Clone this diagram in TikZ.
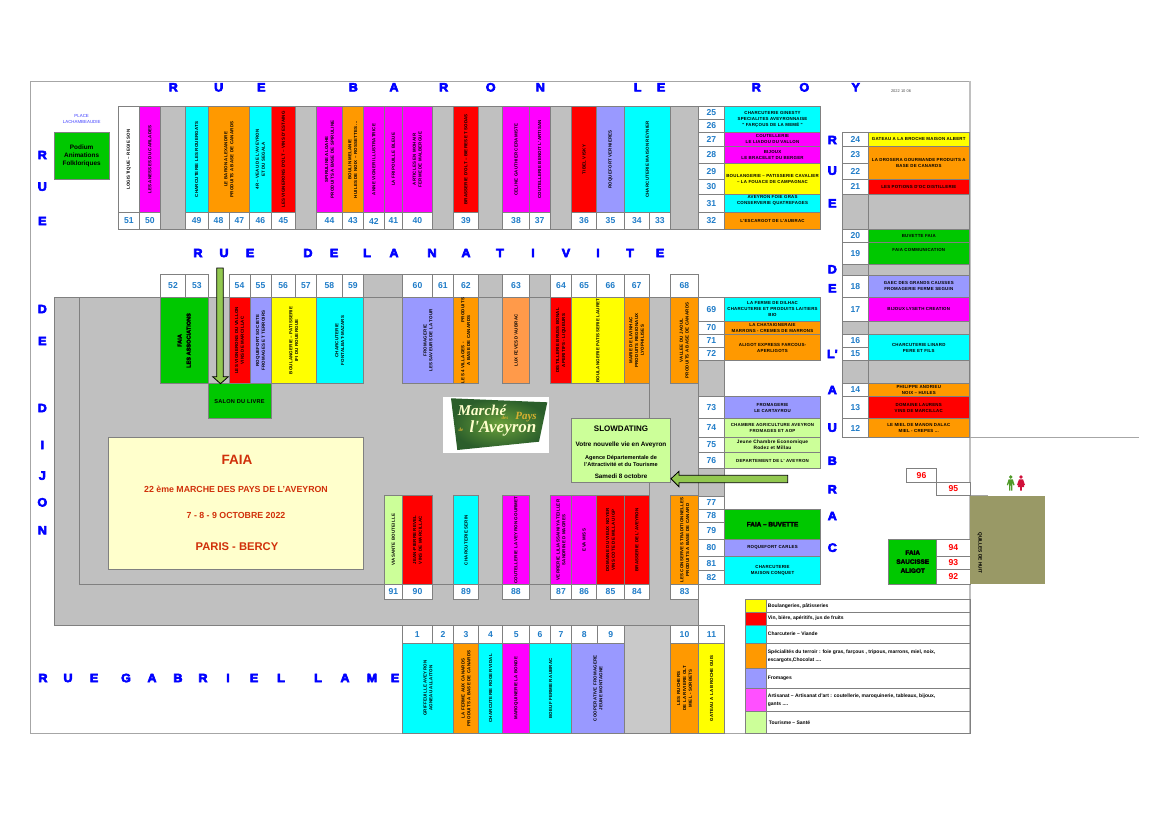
\documentclass[tikz,border=0pt]{standalone}
\usepackage{fontspec}
\setmainfont{Liberation Sans}
\newfontfamily\streetfont[UprightFont=* Bold,FakeBold=5,FakeStretch=1.05]{Liberation Sans}
\newfontfamily\heavyfont[UprightFont=* Bold,FakeBold=3.5]{Liberation Sans}
\newfontfamily\standfont[UprightFont=* Bold,LetterSpace=5]{Liberation Sans}
\newfontfamily\logofont[ItalicFont=* Bold Italic]{Liberation Serif}
\definecolor{cyan}{HTML}{00FFFF}
\definecolor{magenta}{HTML}{FF00FF}
\definecolor{yellow}{HTML}{FFFF00}
\definecolor{red}{HTML}{FF0000}
\definecolor{blue}{HTML}{0000FF}
\definecolor{standorange}{HTML}{FF9900}
\definecolor{lightorange}{HTML}{FF9A4A}
\definecolor{fromage}{HTML}{9999FF}
\definecolor{tourisme}{HTML}{CCFF99}
\definecolor{faiagreen}{HTML}{00C800}
\definecolor{allee}{HTML}{C0C0C0}
\definecolor{numblue}{HTML}{1F7CC8}
\definecolor{faiared}{HTML}{D0300A}
\definecolor{cream}{HTML}{FFFFCC}
\definecolor{olive}{HTML}{999966}
\definecolor{arrowgreen}{HTML}{92C850}
\definecolor{legendpink}{HTML}{FF50FF}
\definecolor{placeblue}{HTML}{4040FF}
\definecolor{mangreen}{HTML}{4F9A28}
\definecolor{ladyred}{HTML}{D0103A}
\definecolor{logolight}{HTML}{6AA03A}
\definecolor{logodark}{HTML}{2B5E2B}
\definecolor{logogold}{HTML}{D8B030}
\tikzset{
	standline/.style={draw=black!50, line width=0.6pt},
	emptystand/.style={standline, fill=allee},
	vlabel/.style={rotate=90, inner sep=0pt, align=center, font=\fontsize{4.4}{5.8}\selectfont\standfont},
	hlabel/.style={inner sep=0pt, align=center, font=\fontsize{4.4}{6}\selectfont\standfont},
	vheavy/.style={rotate=90, inner sep=0pt, align=center, font=\fontsize{5.6}{9}\selectfont\heavyfont},
	hheavy/.style={inner sep=0pt, align=center, font=\fontsize{6.4}{9}\selectfont\heavyfont},
	numlabel/.style={inner sep=0pt, text=numblue, font=\fontsize{8.6}{10}\selectfont\bfseries},
	rednum/.style={inner sep=0pt, text=red, font=\fontsize{8.6}{10}\selectfont\bfseries},
	street/.style={inner sep=0pt, text=blue, font=\fontsize{12}{12}\selectfont\streetfont},
	legendtext/.style={inner sep=0pt, anchor=west, align=left, font=\fontsize{5}{8}\selectfont\bfseries},
	faiatext/.style={inner sep=0pt, text=faiared, font=\bfseries},
	slowtext/.style={inner sep=0pt, align=center, font=\fontsize{5.6}{7}\selectfont\bfseries},
	blockarrow/.style={draw=black, line width=0.8pt, fill=arrowgreen},
}
\def\stand[#1][#2](#3)(#4)(#5)#6{\draw[standline, fill=#1] (#4) rectangle (#5) node[midway, #2] (#3) {#6};}
\def\numcell[#1](#2)(#3)(#4)#5{\draw[standline, fill=white] (#3) rectangle (#4) node[midway, #1] (#2) {#5};}
\def\letter(#1)(#2)#3{\node[street] (#1) at (#2) {#3};}
\def\legendrow[#1](#2)(#3:#4)#5{\draw[standline] (766.3, #3) rectangle (970, #4); \draw[standline, fill=#1] (745, #3) rectangle (766.3, #4); \node[legendtext] (#2) at (767.7, {(#3+#4)/2}) {#5};}

\begin{document}
\begin{tikzpicture}[x=1pt, y=-1pt]
			%%%%% START %%%%%
			\useasboundingbox (0, 0) rectangle (1169, 826);
			
			\draw[line width=0.7pt, color=black!35] (970, 81) -- (30, 81) -- (30, 733.3) -- (970, 733.3);
			\draw[line width=1.5pt, color=allee] (970, 81) -- (970, 733.3);
			\draw[line width=0.7pt, color=black!35] (970, 437.3) -- (1139, 437.3);
			\draw[line width=0.7pt, color=black!35] (970, 495.7) -- (988, 495.7);
			
			% allees
			\draw[standline, fill=allee] (54.3, 297.3) rectangle (698.5, 625);
			\draw[standline] (649.3, 297.3) -- (649.3, 584.3) -- (79.3, 584.3) -- (79.3, 297.3);
			\draw[standline, fill=allee!85!white] (624.3, 625) rectangle (670.3, 733.3);
			
			% rue baron le roy
			\letter(l1)(173.3, 87.3){R}
			\letter(l2)(218.7, 87.3){U}
			\letter(l3)(261.3, 87.3){E}
			\letter(l4)(353.3, 87.3){B}
			\letter(l5)(394, 87.3){A}
			\letter(l6)(443.7, 87.3){R}
			\letter(l7)(490.7, 87.3){O}
			\letter(l8)(540.3, 87.3){N}
			\letter(l9)(637.7, 87.3){L}
			\letter(l10)(661, 87.3){E}
			\letter(l11)(756.3, 87.3){R}
			\letter(l12)(804.3, 87.3){O}
			\letter(l13)(855.7, 87.3){Y}
			\node[inner sep=0pt, text=black!70, font=\fontsize{4}{5}\selectfont] (dateplan) at (901, 91.3) {2022 10 06};
			
			% rue de la nativite
			\letter(m1)(198, 253){R}
			\letter(m2)(224, 253){U}
			\letter(m3)(250, 253){E}
			\letter(m4)(308, 253){D}
			\letter(m5)(334, 253){E}
			\letter(m6)(367, 253){L}
			\letter(m7)(394, 253){A}
			\letter(m8)(432, 253){N}
			\letter(m9)(466, 253){A}
			\letter(m10)(500, 253){T}
			\letter(m11)(533, 253){I}
			\letter(m12)(566, 253){V}
			\letter(m13)(598, 253){I}
			\letter(m14)(630, 253){T}
			\letter(m15)(660, 253){E}
			
			% rue de dijon
			\letter(d1)(42.3, 155){R}
			\letter(d2)(42.3, 186.7){U}
			\letter(d3)(42.3, 221){E}
			\letter(d4)(42.3, 309){D}
			\letter(d5)(42.3, 341){E}
			\letter(d6)(42.3, 408){D}
			\letter(d7)(42.3, 445){I}
			\letter(d8)(42.3, 475.7){J}
			\letter(d9)(42.3, 502.3){O}
			\letter(d10)(42.3, 530.3){N}
			
			% rue de l'aubrac
			\letter(a1)(832.3, 140){R}
			\letter(a2)(832.3, 170.7){U}
			\letter(a3)(832.3, 203.3){E}
			\letter(a4)(832.3, 269.3){D}
			\letter(a5)(832.3, 288.3){E}
			\letter(a6)(832.3, 354){L'}
			\letter(a7)(832.3, 390){A}
			\letter(a8)(832.3, 427.7){U}
			\letter(a9)(832.3, 460.7){B}
			\letter(a10)(832.3, 489.3){R}
			\letter(a11)(832.3, 516){A}
			\letter(a12)(832.3, 547.7){C}
			
			% rue gabriel lame
			\letter(g1)(43, 678){R}
			\letter(g2)(68, 678){U}
			\letter(g3)(94, 678){E}
			\letter(g4)(126, 678){G}
			\letter(g5)(152, 678){A}
			\letter(g6)(178, 678){B}
			\letter(g7)(203, 678){R}
			\letter(g8)(228, 678){I}
			\letter(g9)(254, 678){E}
			\letter(g10)(281, 678){L}
			\letter(g11)(318, 678){L}
			\letter(g12)(345, 678){A}
			\letter(g13)(372, 678){M}
			\letter(g14)(395, 678){E}
			
			% place
			\node[inner sep=0pt, align=center, text=placeblue, font=\fontsize{4.4}{6}\selectfont] (place) at (81.7, 119) {PLACE\\LACHAMBEAUDIE};
			\draw[standline, fill=faiagreen] (54, 132.3) rectangle (109.3, 179.3) node[midway, inner sep=0pt, align=center, font=\fontsize{6.4}{8}\selectfont\bfseries] (podium) {Podium\\Animations\\Folkloriques};
			
			% rangee du haut
			\numcell[numlabel](n51)(118.3, 212.7)(139.3, 229.3){51}
			\numcell[numlabel](n50)(139.3, 212.7)(160.3, 229.3){50}
			\numcell[numlabel](n49)(185.3, 212.7)(208, 229.3){49}
			\numcell[numlabel](n48)(208, 212.7)(229, 229.3){48}
			\numcell[numlabel](n47)(229, 212.7)(249.7, 229.3){47}
			\numcell[numlabel](n46)(249.7, 212.7)(271, 229.3){46}
			\numcell[numlabel](n45)(271, 212.7)(295.7, 229.3){45}
			\numcell[numlabel](n44)(316.7, 212.7)(342.3, 229.3){44}
			\numcell[numlabel](n43)(342.3, 212.7)(363.3, 229.3){43}
			\numcell[numlabel](n42)(363.3, 212.7)(384.3, 229.3){42}
			\numcell[numlabel](n41)(384.3, 212.7)(402.3, 229.3){41}
			\numcell[numlabel](n40)(402.3, 212.7)(432.3, 229.3){40}
			\numcell[numlabel](n39)(453.3, 212.7)(478.3, 229.3){39}
			\numcell[numlabel](n38)(502.7, 212.7)(529.3, 229.3){38}
			\numcell[numlabel](n37)(529.3, 212.7)(550, 229.3){37}
			\numcell[numlabel](n36)(571.3, 212.7)(596.7, 229.3){36}
			\numcell[numlabel](n35)(596.7, 212.7)(624.3, 229.3){35}
			\numcell[numlabel](n34)(624.3, 212.7)(649.3, 229.3){34}
			\numcell[numlabel](n33)(649.3, 212.7)(670.3, 229.3){33}
			
			\stand[white][vlabel](s51)(118.3, 106.3)(139.3, 212.7){LOGISTIQUE – REGIE SON}
			\stand[magenta][vlabel](s50)(139.3, 106.3)(160.3, 212.7){LES ANESSES DU CARLADES}
			\draw[emptystand] (160.3, 106.3) rectangle (185.3, 229.3);
			\stand[cyan][vlabel](s49)(185.3, 106.3)(208, 212.7){CHARCUTERIE LES ROUERGATS}
			\stand[standorange][vlabel](s48)(208, 106.3)(249.7, 212.7){LE BARON ALEXANDRE\\PRODUITS A BASE DE CANARDS}
			\stand[cyan][vlabel](s46)(249.7, 106.3)(271, 212.7){4R – VEAU DE L'AVEYRON\\ET DU SEGALA}
			\stand[red][vlabel](s45)(271, 106.3)(295.7, 212.7){LES VIGNERONS D'OLT – VINS D'ESTAING}
			\draw[emptystand] (295.7, 106.3) rectangle (316.7, 229.3);
			\stand[magenta][vlabel](s44)(316.7, 106.3)(342.3, 212.7){SPIRULINE ALGAHE\\PRODUITS A BASE DE SPIRULINE}
			\stand[standorange][vlabel](s43)(342.3, 106.3)(363.3, 212.7){BOULIN MELANIE\\HUILES DE NOIX – ROSSETTES ...}
			\stand[magenta][vlabel](s42)(363.3, 106.3)(384.3, 212.7){ANNE VIGNER ILLUSTRATRICE}
			\stand[magenta][vlabel](s41)(384.3, 106.3)(402.3, 212.7){LA FRIPOUILLE BLEUE}
			\stand[magenta][vlabel](s40)(402.3, 106.3)(432.3, 212.7){ARTICLES EN MOHAIR\\FERME DE MALBERGUE}
			\draw[emptystand] (432.3, 106.3) rectangle (453.3, 229.3);
			\stand[red][vlabel](s39)(453.3, 106.3)(478.3, 212.7){BRASSERIE D'OLT – BIERES ET SODAS}
			\draw[emptystand] (478.3, 106.3) rectangle (502.7, 229.3);
			\stand[magenta][vlabel](s38)(502.7, 106.3)(529.3, 212.7){CELINE GAUTHIER CERAMISTE}
			\stand[magenta][vlabel](s37)(529.3, 106.3)(550, 212.7){COUTELLERIE BENOIT L'ARTISAN}
			\draw[emptystand] (550, 106.3) rectangle (571.3, 229.3);
			\stand[red][vlabel](s36)(571.3, 106.3)(596.7, 212.7){TIBEL VISKY}
			\stand[fromage][vlabel](s35)(596.7, 106.3)(624.3, 212.7){ROQUEFORT VERNIERES}
			\stand[cyan][vlabel](s34)(624.3, 106.3)(670.3, 212.7){CHARCUTERIE MAISON REYNIER}
			\draw[emptystand] (670.3, 106.3) rectangle (698.3, 229.3);
			
			% colonne 25 a 32
			\numcell[numlabel](n25)(698.3, 106.3)(724.3, 119.3){25}
			\numcell[numlabel](n26)(698.3, 119.3)(724.3, 132.3){26}
			\numcell[numlabel](n27)(698.3, 132.3)(724.3, 146.3){27}
			\numcell[numlabel](n28)(698.3, 146.3)(724.3, 163.3){28}
			\numcell[numlabel](n29)(698.3, 163.3)(724.3, 179){29}
			\numcell[numlabel](n30)(698.3, 179)(724.3, 194.3){30}
			\numcell[numlabel](n31)(698.3, 194.3)(724.3, 212.7){31}
			\numcell[numlabel](n32)(698.3, 212.7)(724.3, 229.3){32}
			\stand[cyan][hlabel](s25)(724.3, 106.3)(820.7, 132.3){CHARCUTERIE GINESTY\\SPECIALITES AVEYRONNAISE\\" FARÇOUS DE LA MEMÉ "}
			\stand[magenta][hlabel](s27)(724.3, 132.3)(820.7, 146.3){COUTELLERIE\\LE LIADOU DU VALLON}
			\stand[magenta][hlabel](s28)(724.3, 146.3)(820.7, 163.3){BIJOUX\\LE BRACELET DU BERGER}
			\stand[yellow][hlabel](s29)(724.3, 163.3)(820.7, 194.3){BOULANGERIE – PATISSERIE CAVALIER\\– LA FOUACE DE CAMPAGNAC}
			\stand[cyan][{hlabel, yshift=3pt}](s31)(724.3, 194.3)(820.7, 212.7){AVEYRON FOIE GRAS\\CONSERVERIE QUATREFAGES}
			\stand[standorange][hlabel](s32)(724.3, 212.7)(820.7, 229.3){L'ESCARGOT DE L'AUBRAC}
			
			% colonne 12 a 24
			\numcell[numlabel](n24)(842.7, 132.3)(868, 146.3){24}
			\numcell[numlabel](n23)(842.7, 146.3)(868, 163.3){23}
			\numcell[numlabel](n22)(842.7, 163.3)(868, 179){22}
			\numcell[numlabel](n21)(842.7, 179)(868, 194.3){21}
			\numcell[numlabel](n20)(842.7, 229.3)(868, 242.7){20}
			\numcell[numlabel](n19)(842.7, 242.7)(868, 264.3){19}
			\numcell[numlabel](n18)(842.7, 275)(868, 297.3){18}
			\numcell[numlabel](n17)(842.7, 297.3)(868, 321.3){17}
			\numcell[numlabel](n16)(842.7, 334.7)(868, 347.3){16}
			\numcell[numlabel](n15)(842.7, 347.3)(868, 360.3){15}
			\numcell[numlabel](n14)(842.7, 383.7)(868, 396.3){14}
			\numcell[numlabel](n13)(842.7, 396.3)(868, 418.7){13}
			\numcell[numlabel](n12)(842.7, 418.7)(868, 437.3){12}
			\stand[yellow][hlabel](s24)(868, 132.3)(969.5, 146.3){GATEAU A LA BROCHE MAISON ALBERT}
			\stand[standorange][hlabel](s23)(868, 146.3)(969.5, 179){LA DROSERA GOURMANDE  PRODUITS A\\BASE DE CANARDS}
			\stand[red][hlabel](s21)(868, 179)(969.5, 194.3){LES POTIONS D'OC DISTILLERIE}
			\draw[emptystand] (842.7, 194.3) rectangle (868, 229.3);
			\draw[emptystand] (868, 194.3) rectangle (969.5, 229.3);
			\stand[faiagreen][hlabel](s20)(868, 229.3)(969.5, 242.7){BUVETTE FAIA}
			\stand[faiagreen][{hlabel, yshift=3.5pt}](s19)(868, 242.7)(969.5, 264.3){FAIA COMMUNICATION}
			\draw[emptystand] (842.7, 264.3) rectangle (868, 275);
			\draw[emptystand] (868, 264.3) rectangle (969.5, 275);
			\stand[fromage][hlabel](s18)(868, 275)(969.5, 297.3){GAEC DES GRANDS CAUSSES\\FROMAGERIE FERME SEGUIN}
			\stand[magenta][hlabel](s17)(868, 297.3)(969.5, 321.3){BIJOUX LYSETH CREATION}
			\draw[emptystand] (842.7, 321.3) rectangle (868, 334.7);
			\draw[emptystand] (868, 321.3) rectangle (969.5, 334.7);
			\stand[cyan][hlabel](s16)(868, 334.7)(969.5, 360.3){CHARCUTERIE LINARD\\PERE ET FILS}
			\draw[emptystand] (842.7, 360.3) rectangle (868, 383.7);
			\draw[emptystand] (868, 360.3) rectangle (969.5, 383.7);
			\stand[standorange][hlabel](s14)(868, 383.7)(969.5, 396.3){PHILIPPE ANDRIEU\\NOIX – HUILES}
			\stand[red][hlabel](s13)(868, 396.3)(969.5, 418.7){DOMAINE LAURENS\\VINS DE MARCILLAC}
			\stand[standorange][hlabel](s12)(868, 418.7)(969.5, 437.3){LE MIEL DE MANON DALAC\\MIEL - CREPES ...}
			
			% rangee du milieu
			\numcell[numlabel](n52)(160.3, 274.3)(185.7, 297.3){52}
			\numcell[numlabel](n53)(185.7, 274.3)(208, 297.3){53}
			\numcell[numlabel](n54)(229, 274.3)(250, 297.3){54}
			\numcell[numlabel](n55)(250, 274.3)(271, 297.3){55}
			\numcell[numlabel](n56)(271, 274.3)(295.3, 297.3){56}
			\numcell[numlabel](n57)(295.3, 274.3)(316.3, 297.3){57}
			\numcell[numlabel](n58)(316.3, 274.3)(342.3, 297.3){58}
			\numcell[numlabel](n59)(342.3, 274.3)(363.3, 297.3){59}
			\draw[emptystand] (363.3, 274.3) rectangle (402.7, 297.3);
			\numcell[numlabel](n60)(402.7, 274.3)(432.3, 297.3){60}
			\numcell[numlabel](n61)(432.3, 274.3)(453.3, 297.3){61}
			\numcell[numlabel](n62)(453.3, 274.3)(478.3, 297.3){62}
			\draw[emptystand] (478.3, 274.3) rectangle (502.7, 297.3);
			\numcell[numlabel](n63)(502.7, 274.3)(529.3, 297.3){63}
			\draw[emptystand] (529.3, 274.3) rectangle (550.3, 297.3);
			\numcell[numlabel](n64)(550.3, 274.3)(571.7, 297.3){64}
			\numcell[numlabel](n65)(571.7, 274.3)(596.7, 297.3){65}
			\numcell[numlabel](n66)(596.7, 274.3)(624, 297.3){66}
			\numcell[numlabel](n67)(624, 274.3)(649.3, 297.3){67}
			\numcell[numlabel](n68)(670.3, 274.3)(698.3, 297.3){68}
			
			\stand[faiagreen][vheavy](s52)(160.3, 297.3)(208, 383.7){FAIA\\LES ASSOCIATIONS}
			\stand[red][vlabel](s54)(229, 297.3)(250, 383.7){LES VIGNERONS DU VALLON\\VINS DE MARCILLAC}
			\stand[fromage][vlabel](s55)(250, 297.3)(271, 383.7){ROQUEFORT  SOCIETE\\FROMAGES ET TERROIRS}
			\stand[yellow][vlabel](s56)(271, 297.3)(316.3, 383.7){BOULANGERIE – PATISSERIE\\IFI DU ROUERGUE}
			\stand[cyan][vlabel](s58)(316.3, 297.3)(363.3, 383.7){CHARCUTERIE\\FONTALBAT-MAZARS}
			\stand[faiagreen][{hlabel, font=\fontsize{5.6}{6}\selectfont\standfont}](livre)(208, 383.7)(271, 418.7){SALON DU LIVRE}
			\stand[fromage][vlabel](s60)(402.7, 297.3)(453.3, 383.7){FROMAGERIE\\LES SAVEURS DE LA TOUR}
			\stand[standorange][vlabel](s62)(453.3, 297.3)(478.3, 383.7){LES 4 VILLAGES -\hspace{20pt}PRODUITS\\A BASE DE CANARDS}
			\stand[lightorange][vlabel](s63)(502.7, 297.3)(529.3, 383.7){LUX FEVES D'AUBRAC}
			\stand[red][vlabel](s64)(550.3, 297.3)(571.7, 383.7){DISTILLERIE BRUSS BONAL\\APERITIFS - LIQUEURS}
			\stand[yellow][vlabel](s65)(571.7, 297.3)(624, 383.7){BOULANGERIE PATISSERIE LAURET}
			\stand[standorange][vlabel](s67)(624, 297.3)(649.3, 383.7){MARIE DE LIVINHAC\\PRODUITS REGIONAUX\\LYOPHILISES}
			\stand[standorange][vlabel](s68)(670.3, 297.3)(698.3, 383.7){VALLEE DU JAOUL\\PRODUITS A BASE DE CANARDS}
			
			% colonne 69 a 82
			\numcell[numlabel](n69)(698.3, 297.3)(724.3, 321.3){69}
			\numcell[numlabel](n70)(698.3, 321.3)(724.3, 334.7){70}
			\numcell[numlabel](n71)(698.3, 334.7)(724.3, 347.3){71}
			\numcell[numlabel](n72)(698.3, 347.3)(724.3, 360.3){72}
			\draw[emptystand] (698.3, 360.3) rectangle (724.3, 396.3);
			\numcell[numlabel](n73)(698.3, 396.3)(724.3, 418.7){73}
			\numcell[numlabel](n74)(698.3, 418.7)(724.3, 437.3){74}
			\numcell[numlabel](n75)(698.3, 437.3)(724.3, 452.7){75}
			\numcell[numlabel](n76)(698.3, 452.7)(724.3, 468.3){76}
			\draw[emptystand] (698.3, 468.3) rectangle (724.3, 496);
			\numcell[numlabel](n77)(698.3, 496)(724.3, 509.3){77}
			\numcell[numlabel](n78)(698.3, 509.3)(724.3, 522.3){78}
			\numcell[numlabel](n79)(698.3, 522.3)(724.3, 539.3){79}
			\numcell[numlabel](n80)(698.3, 539.3)(724.3, 556.3){80}
			\numcell[numlabel](n81)(698.3, 556.3)(724.3, 570){81}
			\numcell[numlabel](n82)(698.3, 570)(724.3, 584.3){82}
			\stand[cyan][hlabel](s69)(724.3, 297.3)(820.7, 321.3){LA FERME DE DILHAC\\CHARCUTERIE ET PRODUITS LAITIERS\\BIO}
			\stand[standorange][hlabel](s70)(724.3, 321.3)(820.7, 334.7){LA CHATAIGNERAIE\\MARRONS - CREMES DE MARRONS}
			\stand[standorange][hlabel](s71)(724.3, 334.7)(820.7, 360.3){ALIGOT EXPRESS FARCOUS-\\APERLIGOTS}
			\stand[fromage][hlabel](s73)(724.3, 396.3)(820.7, 418.7){FROMAGERIE\\LE CARTAYROU}
			\stand[tourisme][hlabel](s74)(724.3, 418.7)(820.7, 437.3){CHAMBRE AGRICULTURE AVEYRON\\FROMAGES  ET AOP}
			\stand[tourisme][{hlabel, font=\fontsize{4.8}{6}\selectfont\standfont}](s75)(724.3, 437.3)(820.7, 452.7){Jeune Chambre Economique\\Rodez et Millau}
			\stand[tourisme][hlabel](s76)(724.3, 452.7)(820.7, 468.3){DEPARTEMENT DE L' AVEYRON}
			\stand[faiagreen][hheavy](s78)(724.3, 509.3)(820.7, 539.3){FAIA – BUVETTE}
			\stand[fromage][hlabel](s80)(724.3, 539.3)(820.7, 556.3){ROQUEFORT CARLES}
			\stand[cyan][hlabel](s81)(724.3, 556.3)(820.7, 584.3){CHARCUTERIE\\MAISON CONQUET}
			
			% rangee 83 a 91
			\numcell[numlabel](n91)(384.3, 584.3)(402.3, 599.3){91}
			\numcell[numlabel](n90)(402.3, 584.3)(432.7, 599.3){90}
			\numcell[numlabel](n89)(453.3, 584.3)(478.7, 599.3){89}
			\numcell[numlabel](n88)(502.3, 584.3)(529.3, 599.3){88}
			\numcell[numlabel](n87)(550.3, 584.3)(571.7, 599.3){87}
			\numcell[numlabel](n86)(571.7, 584.3)(596.7, 599.3){86}
			\numcell[numlabel](n85)(596.7, 584.3)(624.3, 599.3){85}
			\numcell[numlabel](n84)(624.3, 584.3)(649.3, 599.3){84}
			\numcell[numlabel](n83)(670.7, 584.3)(698.7, 599.3){83}
			\stand[tourisme][vlabel](s91)(384.3, 495.7)(402.3, 584.3){VIASANTE BOUTEILLE}
			\stand[red][vlabel](s90)(402.3, 495.7)(432.7, 584.3){JEAN-PIERRE REVEL\\VINS DE MARCILLAC}
			\stand[cyan][vlabel](s89)(453.3, 495.7)(478.7, 584.3){CHARCUTERIE SERIN}
			\stand[magenta][vlabel](s88)(502.3, 495.7)(529.3, 584.3){COUTELLERIE LA VEYRON GOURMET}
			\stand[magenta][vlabel](s87)(550.3, 495.7)(571.7, 584.3){VERRERIE LILIASSAINIYA TEILLER\\SANDRINE D MAGRES}
			\stand[magenta][vlabel](s86)(571.7, 495.7)(596.7, 584.3){EVA MISS}
			\stand[red][vlabel](s85)(596.7, 495.7)(624.3, 584.3){DOMAINE DU VIEUX NOYER\\VINS COTE DE MILLAU IGP}
			\stand[red][vlabel](s84)(624.3, 495.7)(649.3, 584.3){BRASSERIE DE L'AVEYRON}
			\stand[standorange][vlabel](s83)(670.7, 495.7)(698.7, 584.3){LES CONSERVES TRADITIONNELLES\\PRODUITS A BASE DE CANARD}
			
			% rangee du bas
			\numcell[numlabel](n1)(402.3, 625)(432.3, 643.3){1}
			\numcell[numlabel](n2)(432.3, 625)(453.7, 643.3){2}
			\numcell[numlabel](n3)(453.7, 625)(478.3, 643.3){3}
			\numcell[numlabel](n4)(478.3, 625)(502.7, 643.3){4}
			\numcell[numlabel](n5)(502.7, 625)(529.7, 643.3){5}
			\numcell[numlabel](n6)(529.7, 625)(550.3, 643.3){6}
			\numcell[numlabel](n7)(550.3, 625)(571.7, 643.3){7}
			\numcell[numlabel](n8)(571.7, 625)(597, 643.3){8}
			\numcell[numlabel](n9)(597, 625)(624.3, 643.3){9}
			\numcell[numlabel](n10)(670.3, 625)(698.7, 643.3){10}
			\numcell[numlabel](n11)(698.7, 625)(724.3, 643.3){11}
			\stand[cyan][vlabel](s1)(402.3, 643.3)(453.7, 733.3){GRIFFEUILLE AVEYRON\\AGNEAU ALLAITON}
			\stand[standorange][vlabel](s3)(453.7, 643.3)(478.3, 733.3){LA FERME AUX CANARDS\\PRODUITS A BASE DE CANARDS}
			\stand[cyan][vlabel](s4)(478.3, 643.3)(502.7, 733.3){CHARCUTERIE ROGER VIDAL}
			\stand[magenta][vlabel](s5)(502.7, 643.3)(529.7, 733.3){MAROQUINERIE LA BONDE}
			\stand[cyan][vlabel](s6)(529.7, 643.3)(571.7, 733.3){BOEUF FERMIER AUBRAC}
			\stand[fromage][vlabel](s8)(571.7, 643.3)(624.3, 733.3){COOPERATIVE FROMAGERE\\JEUNE MONTAGNE}
			\stand[standorange][vlabel](s10)(670.3, 643.3)(698.7, 733.3){LES RUCHERS\\DE LA RIVIERE OLT\\MIEL - SORBETS}
			\stand[yellow][vlabel](s11)(698.7, 643.3)(724.3, 733.3){GATEAU A LA BROCHE GUIS}
			
			% faia
			\draw[standline, fill=cream] (108.7, 437.7) rectangle (363.3, 569.7);
			\node[faiatext, font=\fontsize{13.5}{14}\selectfont\bfseries] (faiatitre) at (237, 460) {FAIA};
			\node[faiatext, font=\fontsize{8.8}{10}\selectfont\bfseries] (faiamarche) at (236, 489) {22 ème MARCHE DES PAYS DE L'AVEYRON};
			\node[faiatext, font=\fontsize{8.8}{10}\selectfont\bfseries] (faiadate) at (236, 515) {7 - 8 - 9 OCTOBRE 2022};
			\node[faiatext, font=\fontsize{11.2}{12}\selectfont\bfseries] (faialieu) at (237, 547) {PARIS - BERCY};
			
			% logo
			\fill[white] (443.3, 396.7) rectangle (549, 453.3);
			\shade[inner color=logolight, outer color=logodark] (451, 398.3) -- (547.3, 402.3) -- (539, 441.7) -- (457.3, 450) -- cycle;
			\node[inner sep=0pt, text=cream, font=\fontsize{15}{16}\selectfont\logofont\itshape] (logomarche) at (482, 410) {Marché};
			\node[inner sep=0pt, text=logogold, font=\fontsize{5}{6}\selectfont\logofont\itshape] (logodes) at (505, 418) {des};
			\node[inner sep=0pt, text=logogold, font=\fontsize{11}{12}\selectfont\logofont\itshape] (logopays) at (526, 417) {Pays};
			\node[inner sep=0pt, text=logogold, font=\fontsize{5}{6}\selectfont\logofont\itshape] (logode) at (461, 430) {de};
			\node[inner sep=0pt, text=cream, font=\fontsize{17}{18}\selectfont\logofont\itshape] (logoaveyron) at (503, 428) {l'Aveyron};
			
			% slowdating
			\draw[standline, fill=tourisme] (571.7, 418.7) rectangle (670.3, 482.7);
			\node[slowtext, font=\fontsize{8}{9}\selectfont\bfseries] (slowtitre) at (621, 428.5) {SLOWDATING};
			\node[slowtext, font=\fontsize{6.4}{7}\selectfont\bfseries] (slowvie) at (621, 444.7) {Votre nouvelle vie en  Aveyron};
			\node[slowtext] (slowagence) at (621, 460.5) {Agence Départementale de\\l'Attractivité et du Tourisme};
			\node[slowtext, font=\fontsize{6.3}{7}\selectfont\bfseries] (slowdate) at (621, 476) {Samedi 8 octobre};
			
			% fleches
			\draw[blockarrow] (216.7, 268) -- (223.3, 268) -- (223.3, 376.7) -- (228.3, 376.7) -- (220.5, 383.7) -- (212.7, 376.7) -- (216.7, 376.7) -- cycle;
			\draw[blockarrow] (787.7, 475.3) -- (679, 475.3) -- (679, 471.3) -- (671, 478.7) -- (679, 486.7) -- (679, 482.7) -- (787.7, 482.7) -- cycle;
			
			% 92 a 96
			\numcell[rednum](n96)(906.3, 468.3)(936.7, 482.3){96}
			\numcell[rednum](n95)(936.7, 482.3)(970, 495.7){95}
			\numcell[rednum](n94)(936.7, 539)(970, 556.3){94}
			\numcell[rednum](n93)(936.7, 556.3)(970, 569.3){93}
			\numcell[rednum](n92)(936.7, 569.3)(970, 584.3){92}
			\stand[faiagreen][hheavy](saucisse)(888.7, 539)(936.7, 584.3){FAIA\\SAUCISSE\\ALIGOT}
			\draw[draw=none, fill=olive] (970, 495.7) rectangle (1044.7, 584.3);
			\node[inner sep=0pt, rotate=-90, font=\fontsize{4.8}{6}\selectfont\bfseries] (quilles) at (979.7, 553) {QUILLES DE HUIT};
			
			% toilettes
			\fill[mangreen] (1010.7, 477) circle (1.9);
			\fill[mangreen] (1008.6, 479.3) -- (1012.8, 479.3) -- (1014.6, 485) -- (1013.4, 485.4) -- (1012.4, 482.5) -- (1012.4, 490.7) -- (1011, 490.7) -- (1011, 485.5) -- (1010.4, 485.5) -- (1010.4, 490.7) -- (1009, 490.7) -- (1009, 482.5) -- (1008, 485.4) -- (1006.8, 485) -- cycle;
			\fill[ladyred] (1021, 477) circle (1.9);
			\fill[ladyred] (1019, 479.3) -- (1023, 479.3) -- (1025, 485) -- (1023.6, 485.4) -- (1022.8, 483) -- (1024.2, 487) -- (1021.8, 487) -- (1021.8, 490.7) -- (1020.2, 490.7) -- (1020.2, 487) -- (1017.8, 487) -- (1019.2, 483) -- (1018.4, 485.4) -- (1017, 485) -- cycle;
			
			% legende
			\legendrow[yellow](leg1)(599.3:612.3){Boulangeries, pâtisseries}
			\legendrow[red](leg2)(612.3:625){Vin, bière, apéritifs, jus de fruits}
			\legendrow[cyan](leg3)(625:643.3){Charcuterie – Viande}
			\legendrow[standorange](leg4)(643.3:668.7){Spécialités du terroir : foie gras, farçous , tripous, marrons, miel, noix,\\escargots,Chocolat ....}
			\legendrow[fromage](leg5)(668.7:688.3){Fromages}
			\legendrow[legendpink](leg6)(688.3:711.3){Artisanat – Artisanat d'art : coutellerie, maroquinerie, tableaux, bijoux,\\gants ....}
			\legendrow[tourisme](leg7)(711.3:733.3){\hspace{1pt}Tourisme – Santé}
			
			%%%%% END %%%%%
		\end{tikzpicture}
\end{document}
